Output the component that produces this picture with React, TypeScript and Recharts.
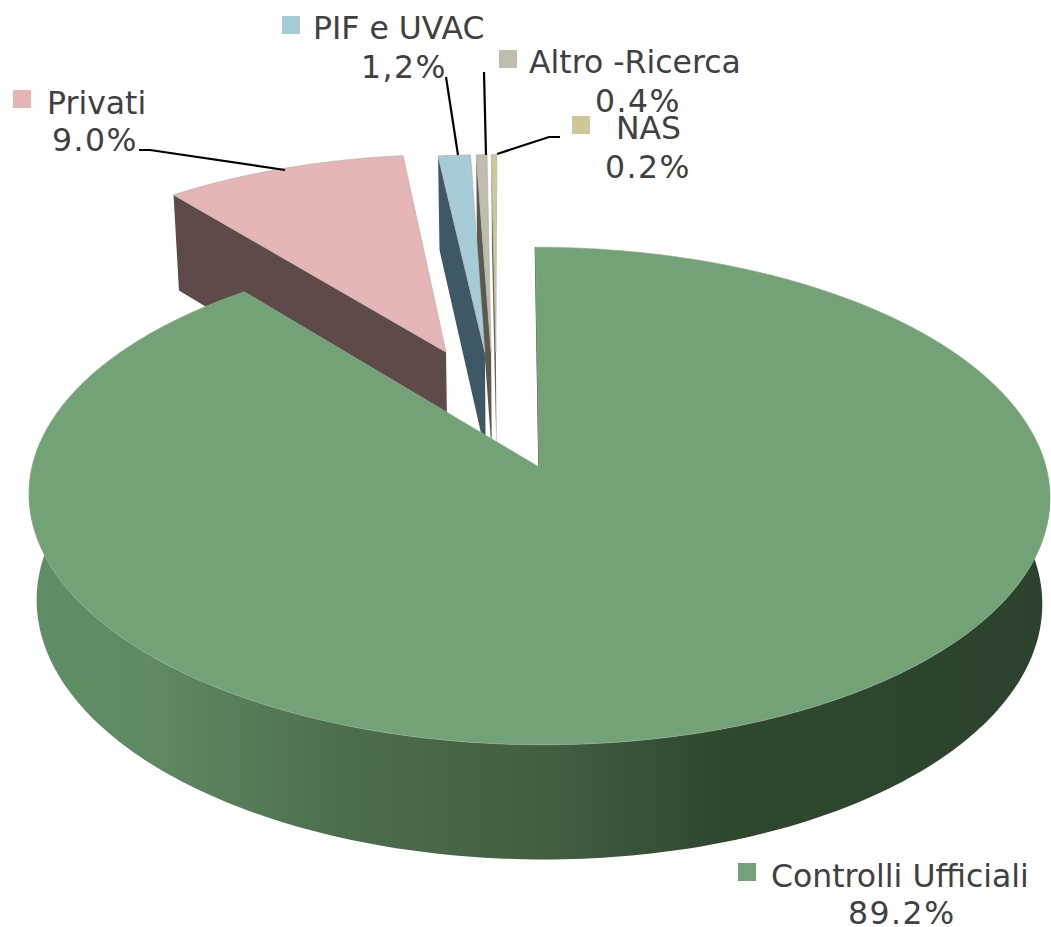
import React from 'react';
import { PieChart, Pie } from 'recharts';

const categories = ['NAS', 'Altro -Ricerca', 'PIF e UVAC', 'Privati', 'Controlli Ufficiali'];
const shares = [0.2, 0.4, 1.2, 9.0, 89.2];
const shareLabels = ['0.2%', '0.4%', '1,2%', '9.0%', '89.2%'];

const topColors = ['#cfc795', '#c0bdae', '#a6cdd7', '#e6b5b5', '#72a276'];
const wallColors = ['#6b6644', '#5c5a50', '#3f5866', '#5f4a4a', 'url(#greenWall)'];

// slice offsets in pie-plane units (fraction of the radius), sideways and away from the viewer
const explodeU = [-0.086, -0.096, -0.109, -0.19, 0];
const explodeV = [0.494, 0.494, 0.494, 0.495, 0];

// legend swatch, name and share text positions, one row per category
const swatches = [[572, 116], [499, 50], [282, 16], [13, 90], [738, 863]];
const nameSpots = [[616, 139], [529, 73], [313, 39], [47, 114], [771, 887]];
const shareSpots = [[605, 178], [595, 112], [361, 78], [52, 151], [848, 924]];
const leaders = [
  '560,137 549,137 497,154',
  '484,72 486,155',
  '446,77 458,155',
  '139,150 150,150 285,170',
  '',
];

const TILT = 0.484;
const PERSPECTIVE = 0.1165;
const SKEW = -4;
const DEPTH = 105;
const BASE_SCALE = 0.985;

function project(cx: number, cy: number, r: number, u: number, v: number, bottom = false) {
  const w = 1 + PERSPECTIVE * v;
  const s = bottom ? BASE_SCALE : 1;
  return [
    cx + (s * r * u + SKEW * v) / w,
    cy + ((bottom ? DEPTH : 0) - s * r * TILT * v) / w,
  ];
}

function arcPoints(from: number, to: number) {
  const steps = Math.max(2, Math.ceil(Math.abs(to - from)));
  const out: number[][] = [];
  for (let i = 0; i <= steps; i++) {
    const a = ((from + ((to - from) * i) / steps) * Math.PI) / 180;
    out.push([Math.cos(a), Math.sin(a)]);
  }
  return out;
}

const toPath = (pts: number[][]) => 'M' + pts.map((p) => p.join(' ')).join('L') + 'Z';

function Slice(props: any) {
  const { cx, cy, outerRadius: r, startAngle, endAngle, index } = props;
  const du = explodeU[index];
  const dv = explodeV[index];
  const at = (u: number, v: number, bottom = false) => project(cx, cy, r, u + du, v + dv, bottom);

  const rim = arcPoints(startAngle, endAngle);
  const top = [at(0, 0), ...rim.map(([u, v]) => at(u, v))];

  let wall: number[][];
  if (index === categories.length - 1) {
    // front of the big slice, only the part that faces the viewer
    const front = arcPoints(174, 366);
    wall = [...front.map(([u, v]) => at(u, v)), ...front.reverse().map(([u, v]) => at(u, v, true))];
  } else {
    // cut face on the left of an exploded slice
    const [u, v] = rim[rim.length - 1];
    wall = [at(u, v), at(0, 0), at(0, 0, true), at(u, v, true)];
  }

  return (
    <g>
      <path d={toPath(wall)} fill={wallColors[index]} />
      {index === categories.length - 1 && (
        <path d={toPath([at(0, 1), at(0, 0)])} stroke="#2f4a35" strokeWidth={1.5} fill="none" />
      )}
      <path
        d={toPath(top)}
        fill={topColors[index]}
        stroke={index === categories.length - 1 ? '#8fae92' : '#b5b0ac'}
        strokeWidth={0.7}
      />
    </g>
  );
}

function SliceLabel(props: any) {
  const { index } = props;
  const textStyle = { fontFamily: 'DejaVu Sans', fontSize: 31.5, fill: '#404040' };
  return (
    <g>
      {leaders[index] && <polyline points={leaders[index]} fill="none" stroke="#000" strokeWidth={2.2} />}
      <rect x={swatches[index][0]} y={swatches[index][1]} width={18} height={18} fill={topColors[index]} />
      <text x={nameSpots[index][0]} y={nameSpots[index][1]} {...textStyle}>
        {categories[index]}
      </text>
      <text x={shareSpots[index][0]} y={shareSpots[index][1]} letterSpacing={1.5} {...textStyle}>
        {shareLabels[index]}
      </text>
    </g>
  );
}

const tableData = categories.map((name, i) => ({ name, value: shares[i] }));

export default function App() {
  return (
    <div style={{ position: 'absolute', left: 0, top: 0, width: 1051, height: 927, background: '#fff' }}>
      <PieChart width={1051} height={927} margin={{ top: 0, right: 0, bottom: 0, left: 0 }}>
        <defs>
          <linearGradient id="greenWall" gradientUnits="userSpaceOnUse" x1="29" y1="0" x2="1050" y2="0">
            <stop offset="0" stopColor="#5f8f65" />
            <stop offset="0.12" stopColor="#5f8a63" />
            <stop offset="0.3" stopColor="#4d6f4e" />
            <stop offset="0.5" stopColor="#435f42" />
            <stop offset="0.68" stopColor="#2f472f" />
            <stop offset="1" stopColor="#2c422c" />
          </linearGradient>
        </defs>
        <Pie
          data={tableData}
          dataKey="value"
          nameKey="name"
          cx={539}
          cy={467}
          innerRadius={0}
          outerRadius={507}
          startAngle={90}
          endAngle={450}
          stroke="none"
          shape={Slice}
          label={SliceLabel}
          labelLine={false}
          isAnimationActive={false}
        />
      </PieChart>
    </div>
  );
}
